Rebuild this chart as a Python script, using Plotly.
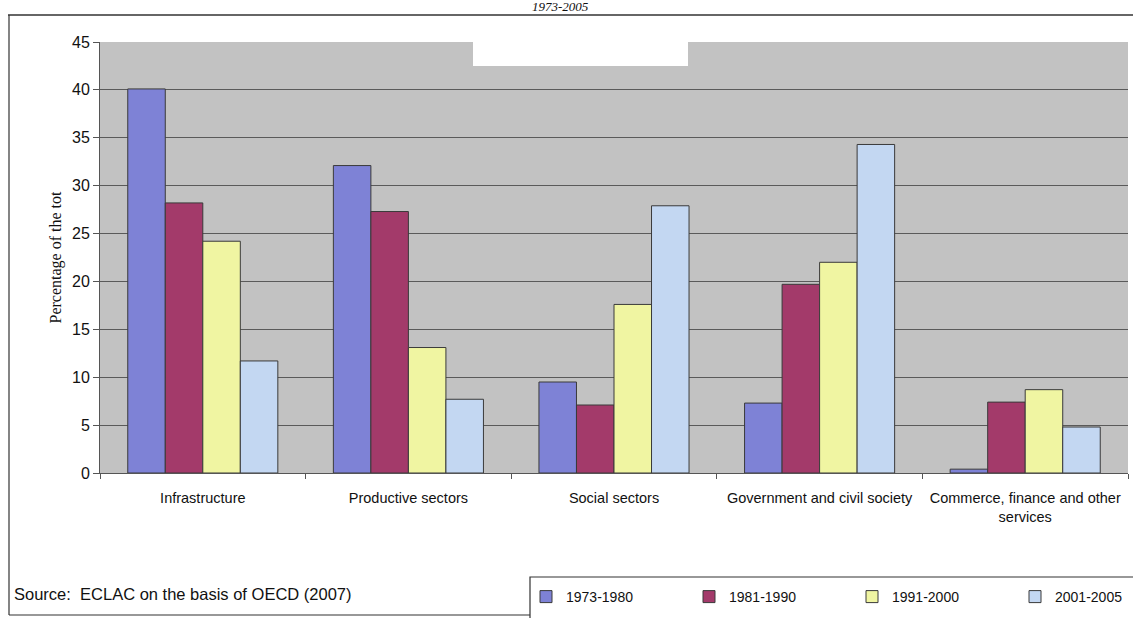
import plotly.graph_objects as go

# Sector shares of total aid, by period
categories = [
    "Infrastructure",
    "Productive sectors",
    "Social sectors",
    "Government and civil society",
    "Commerce, finance and other<br>services",
]
periods = ["1973-1980", "1981-1990", "1991-2000", "2001-2005"]
share_1973_1980 = [40.1, 32.1, 9.5, 7.3, 0.4]
share_1981_1990 = [28.2, 27.3, 7.1, 19.7, 7.4]
share_1991_2000 = [24.2, 13.1, 17.6, 22.0, 8.7]
share_2001_2005 = [11.7, 7.7, 27.9, 34.3, 4.8]
y_ticks = [0, 5, 10, 15, 20, 25, 30, 35, 40, 45]

series = [share_1973_1980, share_1981_1990, share_1991_2000, share_2001_2005]
colors = ["#7e82d6", "#a33a6a", "#f0f5a2", "#c3d7f2"]

W, H = 1133, 618
L, R, T, B = 100, 5, 42, 145
PW, PH = W - L - R, H - T - B


def px(x):
    return (x - L) / PW


def py(y):
    return (H - B - y) / PH


fig = go.Figure()
for name, vals, col in zip(periods, series, colors):
    fig.add_trace(go.Bar(
        x=categories, y=vals, name=name,
        marker=dict(color=col, line=dict(color="#3a3a3a", width=1)),
    ))

shapes = []
line_col = "#333333"
# outer frame of the figure
shapes.append(dict(type="line", xref="paper", yref="paper",
                   x0=px(8), x1=px(1133), y0=py(15), y1=py(15),
                   line=dict(color=line_col, width=1.5)))
shapes.append(dict(type="line", xref="paper", yref="paper",
                   x0=px(9), x1=px(9), y0=py(15), y1=py(615),
                   line=dict(color=line_col, width=1.2)))
shapes.append(dict(type="line", xref="paper", yref="paper",
                   x0=px(9), x1=px(530), y0=py(615), y1=py(615),
                   line=dict(color=line_col, width=1.2)))
# legend box
shapes.append(dict(type="rect", xref="paper", yref="paper",
                   x0=px(530), x1=px(1134), y0=py(577), y1=py(620),
                   line=dict(color=line_col, width=1.2), fillcolor="rgba(0,0,0,0)"))
# blank patch over the top of the plot area
shapes.append(dict(type="rect", xref="paper", yref="paper",
                   x0=px(473), x1=px(688), y0=py(42), y1=py(66),
                   line=dict(width=0), fillcolor="white", layer="above"))

annotations = [
    dict(text="1973-2005", xref="paper", yref="paper", x=px(560), y=py(7),
         showarrow=False, xanchor="center", yanchor="middle",
         font=dict(family="Liberation Serif", size=13, color="#111", style="italic")),
    dict(text="Source:  ECLAC on the basis of OECD (2007)", xref="paper", yref="paper",
         x=px(12), y=py(594), showarrow=False, xanchor="left", yanchor="middle",
         font=dict(family="Liberation Sans", size=16.5, color="#111")),
]

fig.update_layout(
    width=W, height=H,
    margin=dict(l=L, r=R, t=T, b=B, pad=0, autoexpand=False),
    paper_bgcolor="white",
    plot_bgcolor="#c2c2c2",
    barmode="group",
    bargap=0.27,
    bargroupgap=0,
    font=dict(family="Liberation Sans", size=13, color="#111"),
    showlegend=True,
    legend=dict(
        orientation="h", x=px(526), y=py(597), xanchor="left", yanchor="middle",
        entrywidth=118, entrywidthmode="pixels",
        font=dict(family="Liberation Sans", size=14, color="#111"),
        bgcolor="rgba(0,0,0,0)", itemwidth=30, traceorder="normal",
    ),
    shapes=shapes,
    annotations=annotations,
)

fig.update_xaxes(
    showline=True, linecolor="#555555", linewidth=1,
    ticks="outside", tickson="boundaries", ticklen=5, tickcolor="#555555",
    tickfont=dict(size=14.5, color="#111"), tickangle=0, showgrid=False,
    ticklabelstandoff=12, automargin=False,
)
fig.update_yaxes(
    range=[0, 45], tickvals=y_ticks,
    showline=True, linecolor="#555555", linewidth=1,
    ticks="outside", ticklen=6, tickcolor="#555555",
    tickfont=dict(size=16, color="#111"),
    showgrid=True, gridcolor="#5a5a5a", gridwidth=1,
    zeroline=False, automargin=False,
    title=dict(text="Percentage of the tot", standoff=6,
               font=dict(family="Liberation Serif", size=16, color="#111")),
)

fig.write_html("out.html")
